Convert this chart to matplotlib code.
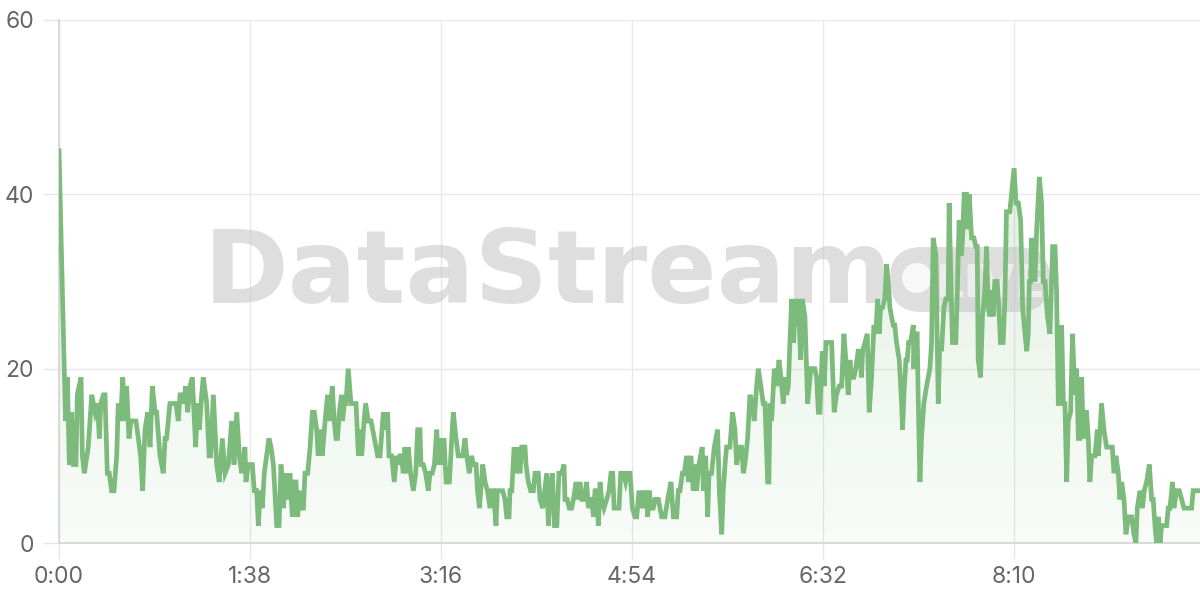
import numpy as np
import matplotlib
matplotlib.use("Agg")
import matplotlib.pyplot as plt
from matplotlib.patches import FancyBboxPatch, Circle
from matplotlib.transforms import IdentityTransform

# ---- data (seconds, value), in segments ----
t_a = [0, 2.8, 3.4, 4.3, 5.3, 6.5, 7.4, 8.7, 9.4, 11.3, 12, 13, 15, 16.8, 18.5, 19.7, 20.7, 21.4, 22.8, 23.6,
       24.8, 25.8, 27, 28.2, 29.6, 30.4, 31.6, 32.7, 33.9, 34.7, 35.9, 36.9, 39.5, 40.7, 41.9, 42.9, 44.1, 45.5,
       46.7, 47.9, 49.3, 50.1, 51.8, 53.5, 54.4, 55.2, 56.9, 58.7, 60, 61.2, 62.1, 63.4, 64.1, 65, 66, 67.2, 68.4,
       70.1, 71.1, 72, 73.2, 74, 75.8, 77, 77.8, 79.2, 80.9, 82.2, 83.8, 85.2, 86.9, 88.6, 89.8, 91.2, 92.5, 93.7]
v_a = [45, 19, 14, 19, 9, 15, 9, 9, 17, 19, 10, 8, 11, 17, 15, 16, 12, 16, 17, 17,
       8, 8, 6, 6, 10, 16, 14, 19, 14, 18, 12, 14, 14, 12, 10, 6, 13, 15,
       11, 18, 15, 15, 10, 8, 12, 12, 16, 16, 16, 14, 17, 17, 16, 18, 15, 18, 19,
       11, 16, 13, 17, 19, 16, 10, 10, 17, 9, 7, 12, 8, 9, 14, 9, 15, 10, 8]

t_b = [95.4, 95.9, 97.1, 99.2, 100.2, 101.4, 102.3, 103.1, 104.3, 105.3, 106.5, 107.7, 108.8, 110, 111.7,
       112.9, 113.9, 115.1, 116.3, 117.3, 118.5, 119.7, 120.7, 121.6, 122.5, 123.1, 124.2, 125.4, 126.2, 127.6,
       128.8, 130, 131, 132.2, 133, 134, 135.1, 136.5, 137.8, 139, 140.2, 141.2, 142.1, 142.9, 143.8, 145,
       145.5, 146.4, 147.2, 148.4, 149.8, 151, 152.4, 153.6, 154.6, 155.3, 156.5, 157.3, 158.7, 160.1, 161.8,
       163.5, 164.7, 166.4, 167.2, 168.6, 169.3, 170.7, 172, 173.2, 174.1, 174.9, 175.8, 176.6, 177.5, 178.3,
       179.2, 180.4, 181.8, 183, 184, 185.2, 185.7, 186.9, 188.1, 189.5, 190.3, 191.5, 192.6, 193.8, 194.6,
       195.5, 196.3, 197.5]
v_b = [11, 7, 9, 9, 6, 6, 2, 6, 4, 8, 10, 12, 11, 9, 2,
       2, 9, 4, 8, 5, 8, 3, 7, 7, 3, 6, 4, 4, 8, 8,
       11, 15, 15, 13, 10, 13, 10, 14, 17, 14, 18, 14, 12, 12, 15, 17,
       14, 16, 16, 20, 16, 16, 16, 10, 13, 10, 14, 16, 14, 14, 12,
       10, 10, 15, 13, 15, 10, 10, 7, 10, 9, 10, 10, 8, 11, 8,
       11, 8, 6, 8, 13, 13, 9, 9, 8, 6, 8, 8, 9, 13, 9,
       12, 9, 12]

t_c = [198.6, 199.3, 200.3, 201.5, 202.3, 203.7, 204.9, 207.1, 208.3, 209.2, 210.5, 211.7, 212.6, 214, 214.7,
       215.7, 216.4, 217.4, 218.6, 219.8, 221.2, 222, 222.9, 224.2, 224.9, 226.3, 227.6, 228.8, 229.7, 230.9,
       231.4, 232.3, 233.5, 234.5, 235.3, 236.5, 237.4, 239.1, 239.6, 240.8, 242, 243.4, 244.2, 245.9, 246.8,
       248.2, 249.2, 250.2, 251.1, 251.9, 253.1, 254.2, 255.4, 256.5, 257.9, 259.1, 259.6, 260.8, 261.8, 263,
       263.9, 265.3, 266.1, 267.3, 268.2, 269.5, 270.7, 271.6, 272.5, 273.3, 274.2, 275, 275.9, 276.7, 277.6,
       278.4, 279.6, 281, 282.2, 283.2, 284.1, 284.8, 286.1, 287.3, 288.2, 289.6, 290.7, 291.6, 293, 294.2,
       295.5, 296.4]
v_c = [7, 7, 7, 12, 15, 12, 10, 10, 12, 10, 8, 10, 9, 9, 6,
       4, 6, 9, 7, 6, 4, 6, 6, 2, 6, 6, 6, 5, 3, 3,
       6, 6, 11, 8, 11, 8, 11, 11, 9, 7, 6, 6, 8, 8, 5,
       4, 6, 8, 2, 6, 8, 2, 2, 8, 8, 9, 5, 5, 4, 4,
       5, 7, 5, 7, 5, 5, 7, 4, 5, 5, 3, 6, 6, 2, 7,
       5, 4, 5, 6, 8, 8, 4, 4, 4, 8, 8, 7, 8, 8, 4,
       3, 3]

t_d = [297.6, 298.6, 299.8, 300.6, 301.5, 302, 302.9, 303.7, 304.9, 305.8, 307.5, 309.2, 310.9, 312.3, 314,
       315.2, 316.9, 317.7, 318.6, 319.8, 320.8, 322, 322.9, 324.2, 325.4, 326.3, 327.1, 328.3, 330, 330.6,
       331.8, 332.8, 333.5, 334.8, 336.2, 337.9, 338.8, 340, 340.8, 341.7, 342.5, 344.2, 345.6, 346.8, 347.7,
       348.9, 350.2, 351.1, 351.9, 353.3, 354.5, 355.7, 356.7, 357.9, 358.8, 360.1, 361.3, 362.2, 363.6, 364.2,
       364.8, 365.6, 367, 368.2, 369.4, 370.4, 371.6, 372.5, 373.3, 374.2, 375, 375.9, 376.9, 377.9, 378.8,
       379.3, 380.5, 381.3, 382.7, 384.1, 384.9, 385.8, 387, 387.8, 388.7, 389.6, 390.4, 391.6, 392.6, 393.5,
       394.7, 396.4]
v_d = [6, 4, 6, 4, 6, 3, 6, 4, 4, 5, 5, 3, 3, 5, 7,
       3, 3, 6, 6, 8, 8, 10, 7, 10, 6, 9, 6, 9, 11, 6,
       10, 3, 8, 8, 11, 13, 6, 1, 6, 9, 11, 11, 15, 13, 9,
       11, 11, 8, 9, 12, 17, 16, 14, 18, 20, 18, 16, 16, 7, 7,
       16, 14, 20, 18, 21, 19, 16, 19, 17, 18, 23, 28, 23, 28, 25,
       28, 21, 28, 26, 16, 18, 20, 20, 20, 19, 15, 15, 22, 18, 23,
       23, 23]

t_e = [397.7, 398.9, 400.3, 401.5, 402.7, 403.7, 404.9, 405.8, 406.6, 407.8, 408.8, 410, 410.9, 411.7, 412.3,
       413.5, 414.7, 415.7, 416.9, 418.1, 419.1, 420, 420.8, 421.5, 422.5, 423.7, 424.6, 425.4, 426.3, 427.1,
       428, 428.8, 429.7, 431.1, 432.3, 432.8, 433.5, 434.5, 435.2, 435.9, 436.9, 438.3, 438.6, 439.1, 440.3,
       440.8, 441.7, 442.5, 443.7, 445.1, 446.8, 447.7, 448.5, 449.9, 451.1, 451.9, 452.8, 454, 455, 456.2,
       456.7, 457.4, 458.4, 459.6, 460.1, 460.8, 461.8, 463, 463.6, 464.4, 465.6, 466, 467, 468.2, 469.4,
       470.4, 471.1, 471.6, 472.8, 473.8, 475, 475.9, 476.7, 477.6, 478.4, 479.3, 480.1, 481.3, 482.2, 483,
       484.4, 485.3, 486.1, 487, 487.8, 488.7]
v_e = [15, 17, 18, 18, 24, 21, 17, 21, 19, 19, 20, 22, 22, 19, 22,
       23, 24, 15, 19, 25, 24, 28, 24, 27, 27, 28, 32, 30, 27, 26,
       25, 25, 23, 21, 16, 13, 17, 21, 21, 23, 23, 25, 20, 24, 24,
       17, 7, 12, 16, 18, 20, 23, 35, 33, 16, 23, 22, 27, 28, 28,
       39, 32, 23, 23, 23, 28, 37, 33, 35, 40, 40, 36, 40, 35, 35,
       34, 34, 21, 19, 26, 29, 34, 27, 26, 29, 26, 30, 30, 27, 23,
       23, 28, 38, 38, 38, 40]

t_f = [490, 491, 492.2, 493.4, 494.4, 495.6, 496.5, 497.3, 497.8, 498.5, 499, 499.9, 500.7, 501.6, 503,
       504.1, 505, 505.9, 507.1, 508.4, 509.8, 511, 511.8, 512.7, 513.6, 514.4, 515.3, 516.1, 517, 517.8,
       519, 520, 521.2, 522.1, 523, 523.8, 524.7, 525.5, 526.4, 527.2, 528.1, 528.9, 529.8, 530.7, 531.5,
       532.7, 533.2, 534.1, 534.9, 536.1, 537.5, 539.2, 540.4, 541.3, 542.3, 543.5, 544.3, 545.2, 546.4, 547.4,
       548.6, 550.3, 551.5, 552.5, 553.2, 554.6, 555.8, 556.8, 558, 559.4, 560.6, 561.4, 562.3, 563.1, 564,
       564.9, 565.7, 566.9, 568.3, 569.1, 570, 571.3, 572, 573.4, 574.8, 576, 577.2, 578.5, 580.2, 581.1,
       581.9, 583.7, 585.4]
v_f = [43, 39, 39, 37, 27, 24, 22, 24, 30, 30, 35, 32, 30, 36, 42,
       39, 30, 30, 26, 24, 34, 34, 29, 16, 16, 25, 16, 16, 7, 14,
       15, 24, 17, 20, 12, 12, 19, 12, 15, 15, 12, 7, 10, 10, 10,
       13, 10, 13, 16, 13, 11, 11, 11, 8, 10, 8, 5, 7, 5, 1,
       3, 3, 1, 0, 4, 6, 4, 6, 7, 9, 5, 5, 2, 0, 3,
       0, 2, 2, 2, 4, 4, 7, 4, 6, 6, 5, 4, 4, 4, 4,
       6, 6, 6]

for tt, vv in [(t_a, v_a), (t_b, v_b), (t_c, v_c), (t_d, v_d), (t_e, v_e), (t_f, v_f)]:
    assert len(tt) == len(vv), (len(tt), len(vv))

times = t_a + t_b + t_c + t_d + t_e + t_f
values = v_a + v_b + v_c + v_d + v_e + v_f

x_max = 585.4
tick_seconds = [0, 98, 196, 294, 392, 490]
tick_labels = ["0:00", "1:38", "3:16", "4:54", "6:32", "8:10"]
y_ticks = [0, 20, 40, 60]

LINE = "#7dbb7d"

plt.rcParams["font.family"] = ["Inter", "DejaVu Sans"]

fig = plt.figure(figsize=(12, 6), dpi=100)
ax = fig.add_axes([59 / 1200, 57 / 600, (1200 - 59) / 1200, 523 / 600])

# gradient fill under the line
poly = ax.fill_between(times, values, 0, facecolor="none", edgecolor="none", lw=0)
n = 256
rgba = np.zeros((n, 1, 4))
rgba[..., 0], rgba[..., 1], rgba[..., 2] = 0x7d / 255, 0xbb / 255, 0x7d / 255
rgba[:, 0, 3] = np.linspace(0.05, 0.22, n)
img = ax.imshow(rgba, extent=[0, x_max, 0, max(values)], origin="lower",
                aspect="auto", zorder=1, interpolation="bilinear")
img.set_clip_path(poly.get_paths()[0], transform=ax.transData)

ax.plot(times, values, color=LINE, lw=3.4, zorder=3, solid_joinstyle="miter")

ax.set_xlim(0, x_max)
ax.set_ylim(0, 60)
ax.set_xticks(tick_seconds, tick_labels)
ax.set_yticks(y_ticks)
ax.grid(True, color="#e8e8e8", lw=1.0, zorder=0)
ax.set_axisbelow(True)
ax.tick_params(axis="both", length=11.5, width=1.0, color="#e6e6e6",
               labelcolor="#666666", labelsize=16.5)
ax.tick_params(axis="y", pad=6.5)
ax.tick_params(axis="x", pad=5)
for s in ["top", "right"]:
    ax.spines[s].set_visible(False)
ax.spines["left"].set_color("#d6d6d6")
ax.spines["left"].set_linewidth(1.3)
ax.spines["bottom"].set_color("#d6d6d6")
ax.spines["bottom"].set_linewidth(1.3)

# watermark
WM = "#c4c4c4"
ax.text(204 / 1200, 1 - 303 / 600, "DataStream", transform=fig.transFigure,
        fontsize=73.5, fontweight="bold", family="DejaVu Sans", color=WM, alpha=0.55,
        ha="left", va="baseline", zorder=2)
pill = FancyBboxPatch((890, 600 - 312), 160, 65, boxstyle="round,pad=0,rounding_size=32",
                      transform=IdentityTransform(), facecolor=WM, edgecolor="none",
                      alpha=0.55, zorder=2)
ax.add_artist(pill)
dot = Circle((917, 600 - 278), 15, transform=IdentityTransform(), facecolor="#fcfcfc",
             edgecolor="none", alpha=0.9, zorder=2.1)
ax.add_artist(dot)
ax.text(936 / 1200, 1 - 297 / 600, "LIVE", transform=fig.transFigure, fontsize=32,
        fontweight="bold", family="DejaVu Sans", color="#f2f2f2", alpha=0.8,
        ha="left", va="baseline", zorder=2.1)

fig.savefig("out.png", dpi=100)
